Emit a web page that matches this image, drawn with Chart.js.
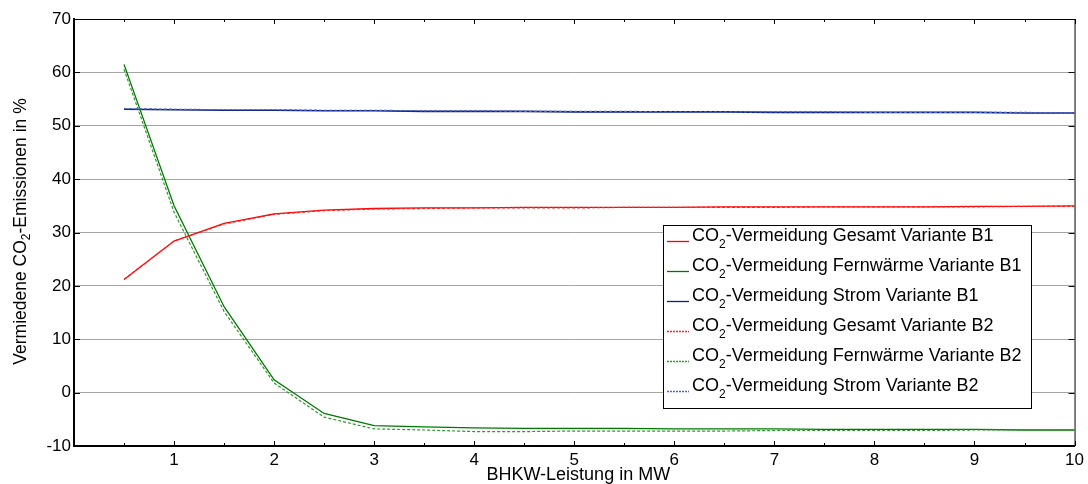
<!DOCTYPE html>
<html lang="de">
<head>
<meta charset="UTF-8">
<title>CO2-Vermeidung</title>
<script src="https://cdn.jsdelivr.net/npm/chart.js"></script>
<style>
  html, body { margin: 0; padding: 0; background: #fff; }
  #wrap { width: 1088px; height: 484px; }
</style>
</head>
<body>
<div id="wrap"><canvas id="chart"></canvas></div>
<script>
// BHKW-Leistung in MW
const leistung = [0.5, 1, 1.5, 2, 2.5, 3, 3.5, 4, 4.5, 5, 5.5, 6, 6.5, 7, 7.5, 8, 8.5, 9, 9.5, 10];

const gesamtB1 = [21.2, 28.4, 31.7, 33.5, 34.2, 34.5, 34.6, 34.6, 34.7, 34.7, 34.7, 34.7, 34.8, 34.8, 34.8, 34.8, 34.8, 34.9, 34.9, 35.0];
const fernwaermeB1 = [61.5, 35.0, 16.1, 2.4, -3.9, -6.2, -6.4, -6.6, -6.7, -6.7, -6.7, -6.8, -6.8, -6.8, -6.9, -6.9, -6.9, -6.9, -7.0, -7.0];
const stromB1 = [53.1, 53.0, 52.9, 52.9, 52.8, 52.8, 52.7, 52.7, 52.7, 52.6, 52.6, 52.6, 52.6, 52.5, 52.5, 52.5, 52.5, 52.5, 52.4, 52.4];

const gesamtB2 = [21.2, 28.4, 31.6, 33.4, 34.1, 34.4, 34.5, 34.6, 34.6, 34.6, 34.7, 34.7, 34.7, 34.7, 34.8, 34.8, 34.8, 34.8, 34.9, 34.9];
const fernwaermeB2 = [60.6, 33.8, 15.2, 1.8, -4.6, -6.8, -7.0, -7.3, -7.3, -7.2, -7.2, -7.2, -7.2, -7.1, -7.1, -7.1, -7.1, -7.0, -7.0, -7.0];
const stromB2 = [53.2, 53.1, 53.0, 53.0, 52.9, 52.9, 52.8, 52.8, 52.7, 52.7, 52.7, 52.6, 52.6, 52.6, 52.6, 52.5, 52.5, 52.5, 52.5, 52.4];

const legendLabels = [
  ['CO', '-Vermeidung Gesamt Variante B1'],
  ['CO', '-Vermeidung Fernwärme Variante B1'],
  ['CO', '-Vermeidung Strom Variante B1'],
  ['CO', '-Vermeidung Gesamt Variante B2'],
  ['CO', '-Vermeidung Fernwärme Variante B2'],
  ['CO', '-Vermeidung Strom Variante B2']
];

const yTicks = [-10, 0, 10, 20, 30, 40, 50, 60, 70];
const xTickLabels = [1, 2, 3, 4, 5, 6, 7, 8, 9, 10];
const xTitle = 'BHKW-Leistung in MW';

const FONT = '"Liberation Sans", Arial, sans-serif';

function series(values, color, dash, width, order) {
  return {
    data: leistung.map((x, i) => ({ x: x, y: values[i] })),
    borderColor: color,
    borderWidth: width,
    borderDash: dash,
    pointRadius: 0,
    tension: 0,
    fill: false,
    order: order
  };
}

const datasets = [
  series(gesamtB1, '#ff0000', [], 1.3, 2),
  series(fernwaermeB1, '#007800', [], 1.3, 2),
  series(stromB1, '#0c1e86', [], 1.6, 2),
  series(gesamtB2, '#ff2020', [3, 2], 1.2, 1),
  series(fernwaermeB2, '#2a9a2a', [3, 2], 1.2, 1),
  series(stromB2, '#4a68c4', [3, 2], 1.2, 1)
];

// frame, inward ticks, axis titles with subscript, legend box
const decorations = {
  id: 'decorations',
  afterDraw(chart) {
    const ctx = chart.ctx;
    const a = chart.chartArea;
    const xs = chart.scales.x, ys = chart.scales.y;
    ctx.save();

    // inward tick marks
    ctx.strokeStyle = '#000';
    ctx.lineWidth = 1;
    ctx.beginPath();
    xs.ticks.forEach(t => {
      const px = Math.round(xs.getPixelForValue(t.value)) + 0.5;
      const len = Number.isInteger(t.value) ? 5 : 3;
      ctx.moveTo(px, a.bottom); ctx.lineTo(px, a.bottom - len);
      ctx.moveTo(px, a.top); ctx.lineTo(px, a.top + len);
    });
    ys.ticks.forEach(t => {
      const py = Math.round(ys.getPixelForValue(t.value)) + 0.5;
      ctx.moveTo(a.left, py); ctx.lineTo(a.left + 6, py);
      ctx.moveTo(a.right, py); ctx.lineTo(a.right - 6, py);
    });
    ctx.stroke();

    // frame top / right
    ctx.beginPath();
    ctx.moveTo(a.left, a.top + 0.5); ctx.lineTo(a.right + 0.5, a.top + 0.5);
    ctx.lineTo(a.right + 0.5, a.bottom);
    ctx.stroke();

    // x title
    ctx.fillStyle = '#000';
    ctx.font = '18px ' + FONT;
    ctx.textAlign = 'center';
    ctx.textBaseline = 'alphabetic';
    ctx.fillText(xTitle, (a.left + a.right) / 2 + 4, 480);

    // y title
    ctx.textBaseline = 'middle';
    ctx.textAlign = 'left';
    const big = '17.5px ' + FONT, small = '12px ' + FONT;
    const parts = ['Vermiedene CO', '2', '-Emissionen in %'];
    ctx.font = big;
    const w0 = ctx.measureText(parts[0]).width;
    const w2 = ctx.measureText(parts[2]).width;
    ctx.font = small;
    const w1 = ctx.measureText(parts[1]).width;
    const total = w0 + w1 + w2;
    const cy = (a.top + a.bottom) / 2 - 1;
    ctx.translate(21, cy);
    ctx.rotate(-Math.PI / 2);
    let x = -total / 2;
    ctx.font = big;
    ctx.fillText(parts[0], x, 0); x += w0;
    ctx.font = small;
    ctx.fillText(parts[1], x, 6); x += w1;
    ctx.font = big;
    ctx.fillText(parts[2], x, 0);
    ctx.setTransform(1, 0, 0, 1, 0, 0);

    // legend
    const bx = 663, by = 225, bw = 368, bh = 183;
    ctx.fillStyle = '#fff';
    ctx.fillRect(bx, by, bw, bh);
    ctx.strokeStyle = '#000';
    ctx.lineWidth = 1;
    ctx.strokeRect(bx + 0.5, by + 0.5, bw, bh);
    legendLabels.forEach((lab, i) => {
      const ds = chart.data.datasets[i];
      const ry = by + 11 + i * 30;
      ctx.save();
      ctx.strokeStyle = ds.borderColor;
      ctx.lineWidth = 1.3;
      ctx.setLineDash(ds.borderDash.length ? [2, 1] : []);
      ctx.beginPath();
      ctx.moveTo(bx + 4, ry + 5.5); ctx.lineTo(bx + 26, ry + 5.5);
      ctx.stroke();
      ctx.restore();
      ctx.fillStyle = '#000';
      ctx.textBaseline = 'middle';
      let tx = bx + 29;
      ctx.font = '18px ' + FONT;
      ctx.fillText(lab[0], tx, ry); tx += ctx.measureText(lab[0]).width;
      ctx.font = '12px ' + FONT;
      ctx.fillText('2', tx, ry + 9); tx += ctx.measureText('2').width;
      ctx.font = '18px ' + FONT;
      ctx.fillText(lab[1], tx, ry);
    });
    ctx.restore();
  }
};

new Chart(document.getElementById('chart'), {
  type: 'line',
  data: { datasets: datasets },
  plugins: [decorations],
  options: {
    responsive: true,
    maintainAspectRatio: false,
    animation: false,
    layout: { padding: { left: 0, top: 19, right: 13, bottom: 0 } },
    plugins: {
      legend: { display: false },
      tooltip: { enabled: false }
    },
    scales: {
      x: {
        type: 'linear',
        min: 0,
        max: 10,
        afterFit(scale) { scale.height = 38; },
        afterBuildTicks(scale) {
          const t = [];
          for (let v = 0; v <= 10; v += 0.5) t.push({ value: v });
          scale.ticks = t;
        },
        ticks: {
          autoSkip: false,
          maxRotation: 0,
          padding: 4,
          color: '#000',
          font: { family: FONT, size: 17 },
          callback: v => xTickLabels.includes(v) ? String(v) : ''
        },
        grid: { display: false, drawTicks: false },
        border: { display: true, color: '#000', width: 2 }
      },
      y: {
        min: -10,
        max: 70,
        afterFit(scale) { scale.width = 74; },
        afterBuildTicks(scale) { scale.ticks = yTicks.map(v => ({ value: v })); },
        ticks: {
          padding: 3,
          color: '#000',
          font: { family: FONT, size: 17 }
        },
        grid: {
          drawTicks: false,
          color: c => (c.tick && (c.tick.value === -10 || c.tick.value === 70)) ? 'rgba(0,0,0,0)' : '#a6a6a6',
          lineWidth: 1
        },
        border: { display: true, color: '#000', width: 2 }
      }
    }
  }
});
</script>
</body>
</html>
